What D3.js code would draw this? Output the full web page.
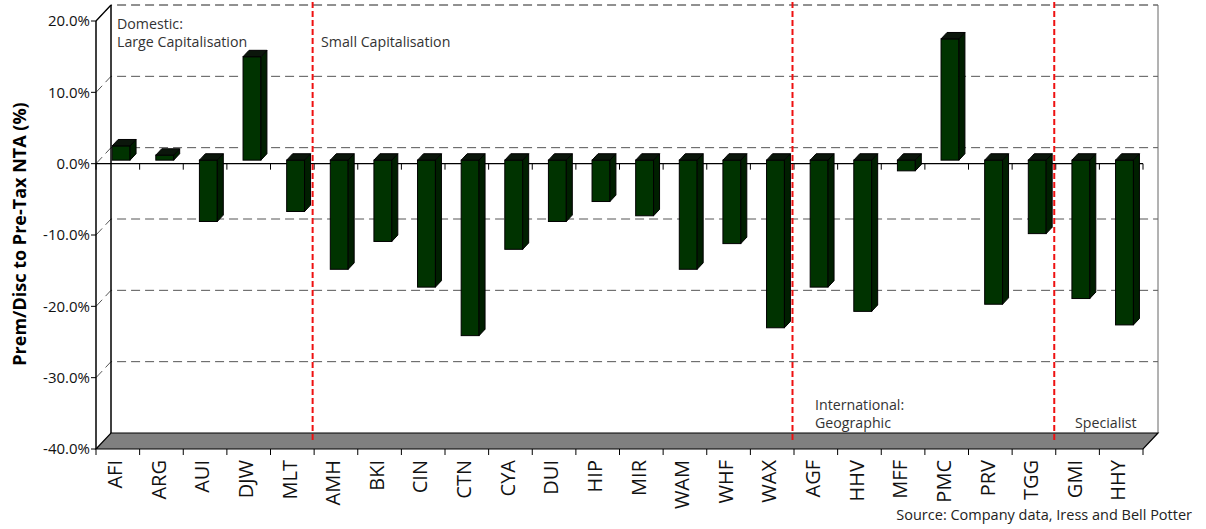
<!DOCTYPE html>
<html>
<head>
<meta charset="utf-8">
<script src="https://cdn.jsdelivr.net/npm/d3@7"></script>
<style>
  body { margin: 0; background: #fff; }
  text { font-family: "Open Sans", sans-serif; }
</style>
</head>
<body>
<div id="chart"></div>
<script>
// data
const tickers = ["AFI","ARG","AUI","DJW","MLT","AMH","BKI","CIN","CTN","CYA","DUI","HIP",
                 "MIR","WAM","WHF","WAX","AGF","HHV","MFF","PMC","PRV","TGG","GMI","HHY"];
const premDisc = [2.0, 0.7, -8.6, 14.5, -7.2, -15.3, -11.4, -17.8, -24.6, -12.5, -8.6, -5.8,
                  -7.8, -15.3, -11.7, -23.5, -17.8, -21.2, -1.5, 17.0, -20.2, -10.3, -19.4, -23.1];
const yTicks = [20, 10, 0, -10, -20, -30, -40];
// group dividers sit before these tickers
const dividers = ["AMH", "AGF", "GMI"];

const W = 1206, H = 529;
const DX = 15, DY = -16;   // depth of the 3d box

const svg = d3.select("#chart").append("svg")
    .attr("width", W).attr("height", H);

const x = d3.scaleBand().domain(tickers).range([96, 1143])
    .paddingInner(0.59).paddingOuter(0.295);
const y = d3.scaleLinear().domain([-40, 20]).range([449, 21]);
const step = x.step();
const left = d => x(d) - step * 0.295; // category boundary (left edge)

const yMin = y(-40), yMax = y(20), x0 = x.range()[0], x1 = x.range()[1];

// back wall
svg.append("rect")
    .attr("x", x0 + DX).attr("y", yMax + DY)
    .attr("width", x1 - x0).attr("height", yMin - yMax)
    .attr("fill", "#fff");

// gridlines on side wall + back wall
svg.selectAll("path.grid")
  .data(yTicks.filter(d => d > -40))
  .enter().append("path")
    .attr("class", "grid")
    .attr("d", d => `M${x0},${y(d)} L${x0 + DX},${y(d) + DY} L${x1 + DX},${y(d) + DY}`)
    .attr("fill", "none")
    .attr("stroke", d => d === 20 ? "#222" : "#555")
    .attr("stroke-width", 1)
    .attr("stroke-dasharray", "9,5");

// wall edges
svg.append("line").attr("x1", x0 + DX).attr("x2", x0 + DX)
    .attr("y1", yMax + DY).attr("y2", yMin + DY).attr("stroke", "#000").attr("stroke-width", 1.5);
svg.append("line").attr("x1", x1 + DX).attr("x2", x1 + DX)
    .attr("y1", yMax + DY).attr("y2", yMin + DY).attr("stroke", "#666").attr("stroke-width", 1);
svg.append("line").attr("x1", x0).attr("x2", x0 + DX)
    .attr("y1", yMax).attr("y2", yMax + DY).attr("stroke", "#000").attr("stroke-width", 1.2);

// floor
svg.append("path")
    .attr("d", `M${x0},${yMin} L${x1},${yMin} L${x1 + DX},${yMin + DY} L${x0 + DX},${yMin + DY} Z`)
    .attr("fill", "#808080").attr("stroke", "#000").attr("stroke-width", 1.2);

// front y axis
svg.append("line").attr("x1", x0).attr("x2", x0)
    .attr("y1", yMax).attr("y2", yMin).attr("stroke", "#000").attr("stroke-width", 1.5);
svg.selectAll("line.ytick").data(yTicks).enter().append("line")
    .attr("x1", x0 - 5).attr("x2", x0).attr("y1", d => y(d)).attr("y2", d => y(d))
    .attr("stroke", "#000");
svg.selectAll("text.ylab").data(yTicks).enter().append("text")
    .attr("class", "ylab")
    .attr("x", x0 - 6).attr("y", d => y(d)).attr("dy", "0.36em")
    .attr("text-anchor", "end")
    .attr("font-size", 15).attr("fill", "#111")
    .text(d => d.toFixed(1) + "%");

svg.append("text")
    .attr("transform", `translate(26,234) rotate(-90)`)
    .attr("text-anchor", "middle")
    .attr("font-size", 18).attr("font-weight", "bold")
    .text("Prem/Disc to Pre-Tax NTA (%)");

// zero axis on front plane
svg.append("line").attr("x1", x0).attr("x2", x1)
    .attr("y1", y(0)).attr("y2", y(0)).attr("stroke", "#000").attr("stroke-width", 1.2);
const bounds = tickers.map(left).concat([x1]);
svg.selectAll("line.ztick").data(bounds).enter().append("line")
    .attr("x1", d => d).attr("x2", d => d)
    .attr("y1", y(0)).attr("y2", y(0) + 6).attr("stroke", "#000");
svg.selectAll("line.btick").data(bounds).enter().append("line")
    .attr("x1", d => d).attr("x2", d => d)
    .attr("y1", yMin).attr("y2", yMin + 6).attr("stroke", "#000");

// 3d columns
const tf = 0.22, tb = 0.62;
const bw = x.bandwidth();
const g = svg.append("g");
tickers.forEach((t, i) => {
  const v = premDisc[i];
  const xa = x(t) + DX * tf, xb = xa + bw;
  const ox = DX * (tb - tf), oy = DY * (tb - tf);
  const yz = y(0) + DY * tf, yv = y(v) + DY * tf;
  const top = Math.min(yz, yv), bot = Math.max(yz, yv);
  // front
  g.append("rect").attr("x", xa).attr("y", top).attr("width", bw).attr("height", bot - top)
    .attr("fill", "#003300").attr("stroke", "#000").attr("stroke-width", 1);
  // side
  g.append("path")
    .attr("d", `M${xb},${top} L${xb + ox},${top + oy} L${xb + ox},${bot + oy} L${xb},${bot} Z`)
    .attr("fill", "#001f00").attr("stroke", "#000").attr("stroke-width", 1);
  // top
  g.append("path")
    .attr("d", `M${xa},${top} L${xb},${top} L${xb + ox},${top + oy} L${xa + ox},${top + oy} Z`)
    .attr("fill", "#0b160b").attr("stroke", "#000").attr("stroke-width", 1);
});

// category labels
svg.selectAll("text.xlab").data(tickers).enter().append("text")
    .attr("transform", d => `translate(${x(d) + bw / 2 - 3},${yMin + 11}) rotate(-90)`)
    .attr("text-anchor", "end").attr("dy", "0.36em")
    .attr("font-size", 20).attr("fill", "#111")
    .text(d => d);

// red group dividers
svg.selectAll("line.div").data(dividers).enter().append("line")
    .attr("x1", d => left(d) - 1.5).attr("x2", d => left(d) - 1.5)
    .attr("y1", 2).attr("y2", yMin - 7)
    .attr("stroke", "#ee1111").attr("stroke-width", 2)
    .attr("stroke-dasharray", "6,3");

// group notes
const notes = [
  {x: 117, y: 29, t: "Domestic:"},
  {x: 117, y: 47, t: "Large Capitalisation"},
  {x: 321, y: 47, t: "Small Capitalisation"},
  {x: 815, y: 410, t: "International:"},
  {x: 815, y: 428, t: "Geographic"},
  {x: 1075, y: 428, t: "Specialist"}
];
svg.selectAll("text.note").data(notes).enter().append("text")
    .attr("x", d => d.x).attr("y", d => d.y)
    .attr("font-size", 14.2).attr("fill", "#333")
    .text(d => d.t);

svg.append("text")
    .attr("x", 1192).attr("y", 520).attr("text-anchor", "end")
    .attr("font-size", 14.5).attr("fill", "#222")
    .text("Source: Company data, Iress and Bell Potter");
</script>
</body>
</html>
